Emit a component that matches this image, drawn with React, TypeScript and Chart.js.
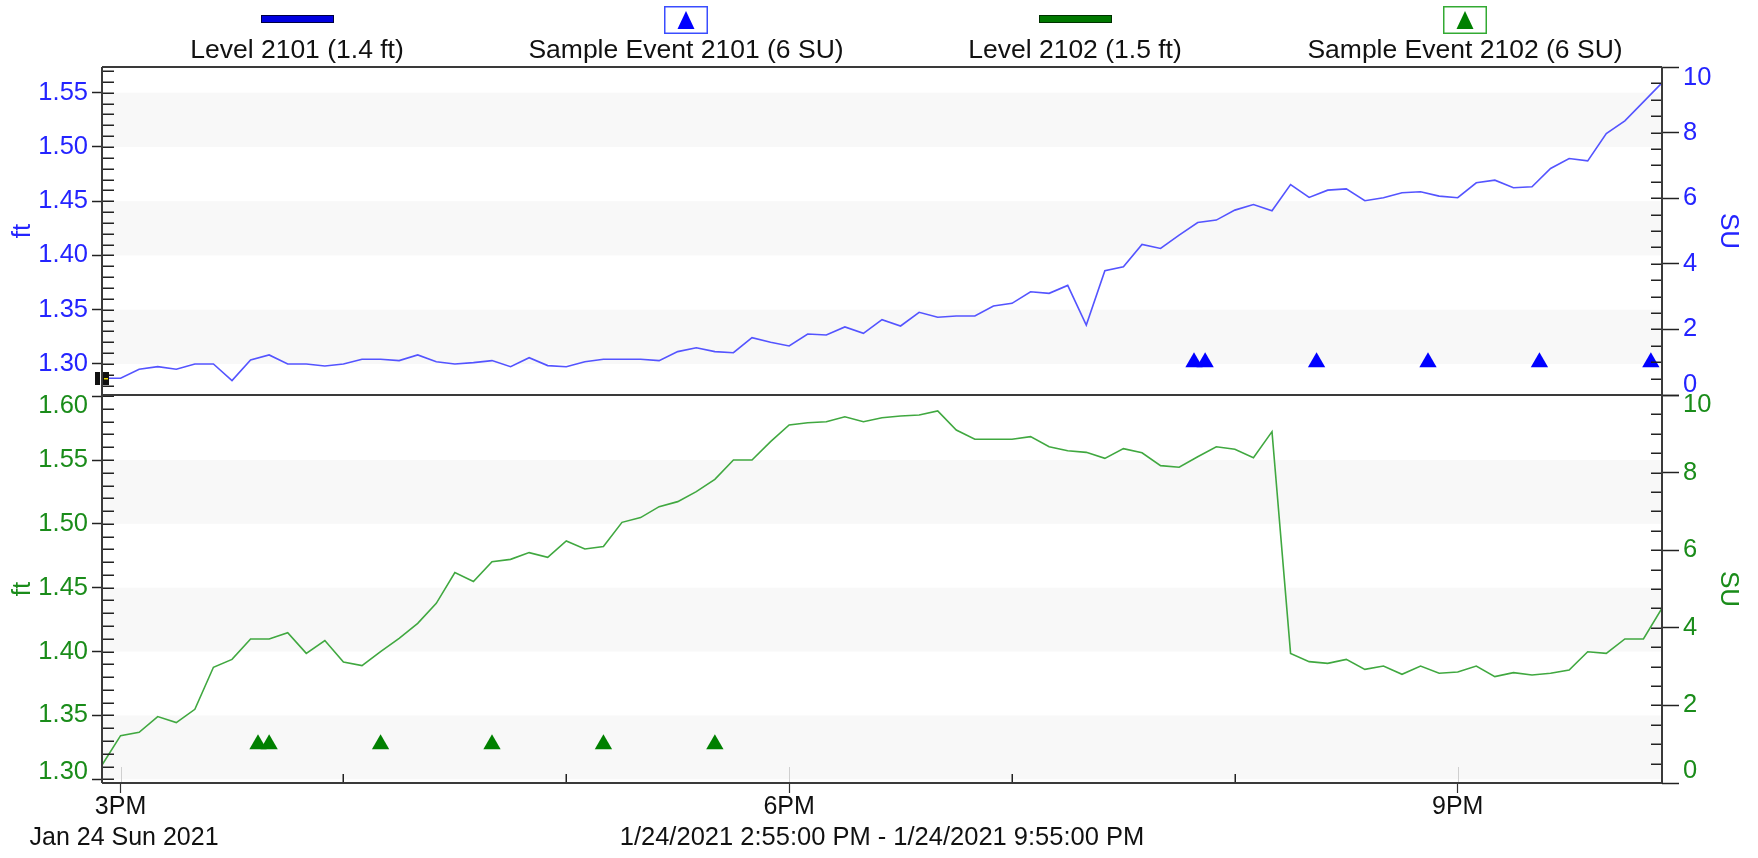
import React, { useEffect, useRef } from "react";
import { Chart, registerables } from "chart.js";

Chart.register(...registerables);

// ---------------- DATA ----------------
const timeLabels = [
  "14:55", "15:00", "15:05", "15:10", "15:15", "15:20", "15:25", "15:30", "15:35", "15:40", "15:45", "15:50", "15:55",
  "16:00", "16:05", "16:10", "16:15", "16:20", "16:25", "16:30", "16:35", "16:40", "16:45", "16:50", "16:55",
  "17:00", "17:05", "17:10", "17:15", "17:20", "17:25", "17:30", "17:35", "17:40", "17:45", "17:50", "17:55",
  "18:00", "18:05", "18:10", "18:15", "18:20", "18:25", "18:30", "18:35", "18:40", "18:45", "18:50", "18:55",
  "19:00", "19:05", "19:10", "19:15", "19:20", "19:25", "19:30", "19:35", "19:40", "19:45", "19:50", "19:55",
  "20:00", "20:05", "20:10", "20:15", "20:20", "20:25", "20:30", "20:35", "20:40", "20:45", "20:50", "20:55",
  "21:00", "21:05", "21:10", "21:15", "21:20", "21:25", "21:30", "21:35", "21:40", "21:45", "21:50", "21:55",
];

const level2101 = [
  1.2868, 1.2868, 1.2951, 1.2975, 1.2951, 1.3, 1.3, 1.2847, 1.3037, 1.3083, 1.3, 1.3, 1.2982,
  1.3, 1.3043, 1.3043, 1.3031, 1.3083, 1.3021, 1.3, 1.3012, 1.3031, 1.2975, 1.3058, 1.2985,
  1.2975, 1.3021, 1.3043, 1.3043, 1.3043, 1.3031, 1.3114, 1.315, 1.3114, 1.3104, 1.3242, 1.32,
  1.3166, 1.3276, 1.3267, 1.3341, 1.3282, 1.3408, 1.335, 1.3476, 1.343, 1.3442, 1.3442, 1.3534,
  1.3559, 1.3666, 1.3651, 1.3724, 1.3359, 1.3859, 1.3896, 1.4102, 1.4065, 1.4188, 1.4304, 1.4326,
  1.4418, 1.447, 1.4412, 1.4654, 1.4535, 1.4602, 1.4614, 1.4504, 1.4532, 1.4578, 1.4587, 1.4547,
  1.4532, 1.467, 1.4694, 1.4624, 1.4633, 1.4802, 1.4894, 1.4872, 1.5124, 1.5241, 1.5416, 1.5591,
];

const level2102 = [
  1.3112, 1.3342, 1.3368, 1.3491, 1.3444, 1.3548, 1.3877, 1.3939, 1.4099, 1.4099, 1.4148, 1.3986, 1.4086,
  1.3919, 1.389, 1.4, 1.4104, 1.4221, 1.4378, 1.4618, 1.4548, 1.4704, 1.4722, 1.4775, 1.4738,
  1.4866, 1.4803, 1.4822, 1.5012, 1.5049, 1.5135, 1.5174, 1.5252, 1.5349, 1.55, 1.55, 1.5644,
  1.5774, 1.5792, 1.58, 1.5839, 1.58, 1.5831, 1.5844, 1.5852, 1.5884, 1.5735, 1.5662, 1.5662,
  1.5662, 1.5683, 1.5604, 1.5573, 1.556, 1.5513, 1.5589, 1.5557, 1.5456, 1.5443, 1.5526, 1.5604,
  1.5584, 1.5518, 1.5722, 1.3986, 1.3921, 1.3908, 1.3939, 1.3861, 1.3887, 1.3822, 1.3887, 1.383,
  1.384, 1.3887, 1.3804, 1.3835, 1.3817, 1.383, 1.3856, 1.3999, 1.3986, 1.4099, 1.4099, 1.4339,
];

const sampleTimes2101 = ["19:49", "19:52", "20:22", "20:52", "21:22", "21:52"];
const sampleSU2101 = [1, 1, 1, 1, 1, 1];
const sampleTimes2102 = ["15:37", "15:40", "16:10", "16:40", "17:10", "17:40"];
const sampleSU2102 = [1, 1, 1, 1, 1, 1];

const ftTicks2101 = [1.3, 1.35, 1.4, 1.45, 1.5, 1.55];
const ftTicks2102 = [1.3, 1.35, 1.4, 1.45, 1.5, 1.55, 1.6];
const suTicks = [0, 2, 4, 6, 8, 10];
const hourTicks = ["15:00", "16:00", "17:00", "18:00", "19:00", "20:00", "21:00"];
const hourLabels = ["3PM", "", "", "6PM", "", "", "9PM"];
const dateLabel = "Jan 24 Sun 2021";
const rangeLabel = "1/24/2021 2:55:00 PM - 1/24/2021 9:55:00 PM";
const rangeStart = "14:55";
const rangeEnd = "21:55";
const legendLabels = [
  "Level 2101 (1.4 ft)",
  "Sample Event 2101 (6 SU)",
  "Level 2102 (1.5 ft)",
  "Sample Event 2102 (6 SU)",
];
const bandRanges = [
  [1.3, 1.35],
  [1.4, 1.45],
  [1.5, 1.55],
];

// ---------------- STYLE / LAYOUT ----------------
const FONT = '"Liberation Sans", Arial, Helvetica, sans-serif';
const BLUE_TXT = "#2424ff";
const GREEN_TXT = "#1a8c1a";
const BLUE_LINE = "rgb(84,84,255)";
const GREEN_LINE = "rgb(64,168,64)";
const BLUE_MARK = "#0000ff";
const GREEN_MARK = "#008000";
const AXIS = "#3a3a3a";
const TICK = "#222222";
const BAND = "#f8f8f8";
const TICK_FONT = 25.5;
const legendCenters = [297, 686, 1075, 1465];
const legendStyles = [
  { kind: "line", color: "#0000e0", border: "#000040" },
  { kind: "tri", color: "#0000ff", border: "#3a4dff" },
  { kind: "line", color: "#007800", border: "#003000" },
  { kind: "tri", color: "#008000", border: "#33aa33" },
];

const toMin = (s: string) => {
  const p = s.split(":").map(Number);
  return p[0] * 60 + p[1] + (p[2] || 0) / 60;
};

const pts = (times: string[], vals: number[]) => times.map((t, i) => ({ x: toMin(t), y: vals[i] }));

function edgeFont(color: string, offsets: Record<string, number>) {
  return {
    color,
    autoSkip: false,
    font: (ctx: any) => {
      const v = ctx && ctx.tick ? ctx.tick.value : undefined;
      const key = v === undefined ? "" : String(Math.round(v * 100) / 100);
      const off = offsets[key];
      return { family: FONT, size: TICK_FONT, lineHeight: off ? `${Math.abs(off) * 2}px` : 1.2 };
    },
  };
}

function edgeLabel(text: string, off: number | undefined) {
  if (!off) return text;
  return off > 0 ? ["", text] : [text, ""];
}

const panelPlugin = {
  id: "panelPlugin",
  beforeDatasetsDraw(chart: any) {
    const { ctx, chartArea } = chart;
    ctx.save();
    ctx.fillStyle = BAND;
    for (const id of ["yL1", "yL2"]) {
      const s = chart.scales[id];
      for (const [lo, hi] of bandRanges) {
        const y1 = Math.max(s.top, s.getPixelForValue(hi));
        const y2 = Math.min(s.bottom, s.getPixelForValue(lo));
        if (y2 > y1) ctx.fillRect(chartArea.left, y1, chartArea.right - chartArea.left, y2 - y1);
      }
    }
    ctx.restore();
  },
  afterDraw(chart: any) {
    const { ctx, chartArea } = chart;
    const { left, right, top, bottom } = chartArea;
    const x = chart.scales.x;
    ctx.save();
    ctx.strokeStyle = TICK;
    ctx.lineWidth = 1.5;
    ctx.beginPath();
    for (const id of ["yL1", "yL2"]) {
      const s = chart.scales[id];
      for (let k = Math.ceil(s.min * 100 - 1e-6); k <= Math.floor(s.max * 100 + 1e-6); k++) {
        const y = Math.round(s.getPixelForValue(k / 100)) + 0.25;
        ctx.moveTo(left, y);
        ctx.lineTo(left + 12, y);
      }
    }
    for (const id of ["yR1", "yR2"]) {
      const s = chart.scales[id];
      for (let k = 0; k <= 20; k++) {
        const y = Math.round(s.getPixelForValue(k / 2)) + 0.25;
        ctx.moveTo(right - 11, y);
        ctx.lineTo(right, y);
      }
    }
    hourTicks.forEach((t, i) => {
      const px = Math.round(x.getPixelForValue(toMin(t))) + 0.25;
      if (!hourLabels[i]) {
        ctx.moveTo(px, bottom - 9);
        ctx.lineTo(px, bottom);
      }
    });
    ctx.stroke();
    ctx.strokeStyle = "#cfcfcf";
    ctx.lineWidth = 1;
    ctx.beginPath();
    hourTicks.forEach((t, i) => {
      const px = Math.round(x.getPixelForValue(toMin(t))) + 0.5;
      if (hourLabels[i]) {
        ctx.moveTo(px, bottom - 16);
        ctx.lineTo(px, bottom);
      }
    });
    ctx.stroke();
    const sep = chart.scales.yL1.bottom;
    ctx.strokeStyle = AXIS;
    ctx.lineWidth = 2;
    ctx.beginPath();
    ctx.moveTo(left, top);
    ctx.lineTo(right, top);
    ctx.moveTo(left, sep);
    ctx.lineTo(right, sep);
    ctx.moveTo(left, bottom);
    ctx.lineTo(right, bottom);
    ctx.moveTo(left, top);
    ctx.lineTo(left, bottom);
    ctx.moveTo(right, top);
    ctx.lineTo(right, bottom);
    ctx.stroke();
    ctx.fillStyle = "#111";
    ctx.fillRect(left - 7, sep - 23, 5, 13);
    ctx.fillRect(left + 1, sep - 23, 6, 13);
    ctx.fillStyle = "#e8d800";
    ctx.fillRect(left + 2, sep - 17, 4, 1.5);
    ctx.restore();
  },
};

export default function App() {
  const ref = useRef<HTMLCanvasElement>(null);

  useEffect(() => {
    if (!ref.current) return;
    const xMin = toMin(rangeStart);
    const xMax = toMin(rangeEnd);
    const off2101L: Record<string, number> = {};
    const off2102L: Record<string, number> = { "1.6": 9.5, "1.3": -7 };
    const off2101R: Record<string, number> = { "10": 11, "0": -10 };
    const off2102R: Record<string, number> = { "10": 10, "0": -12 };

    const leftFit = (s: any) => {
      s.width = 102;
    };
    const rightFit = (s: any) => {
      s.width = 96;
    };

    const chart = new Chart(ref.current, {
      type: "line",
      data: {
        datasets: [
          {
            label: legendLabels[0],
            data: pts(timeLabels, level2101),
            xAxisID: "x",
            yAxisID: "yL1",
            borderColor: BLUE_LINE,
            borderWidth: 1.6,
            pointRadius: 0,
            tension: 0,
          },
          {
            label: legendLabels[1],
            data: pts(sampleTimes2101, sampleSU2101),
            xAxisID: "x",
            yAxisID: "yR1",
            showLine: false,
            pointStyle: "triangle",
            pointRadius: 10,
            pointBorderWidth: 0,
            pointBackgroundColor: BLUE_MARK,
            borderColor: BLUE_MARK,
            backgroundColor: BLUE_MARK,
          },
          {
            label: legendLabels[2],
            data: pts(timeLabels, level2102),
            xAxisID: "x",
            yAxisID: "yL2",
            borderColor: GREEN_LINE,
            borderWidth: 1.6,
            pointRadius: 0,
            tension: 0,
          },
          {
            label: legendLabels[3],
            data: pts(sampleTimes2102, sampleSU2102),
            xAxisID: "x",
            yAxisID: "yR2",
            showLine: false,
            pointStyle: "triangle",
            pointRadius: 10,
            pointBorderWidth: 0,
            pointBackgroundColor: GREEN_MARK,
            borderColor: GREEN_MARK,
            backgroundColor: GREEN_MARK,
          },
        ],
      } as any,
      options: {
        responsive: false,
        animation: false,
        devicePixelRatio: 1,
        layout: { padding: { top: 67, left: 0, right: 0, bottom: 0 } },
        plugins: { legend: { display: false }, tooltip: { enabled: false } },
        scales: {
          x: {
            type: "linear",
            position: "bottom",
            min: xMin,
            max: xMax,
            afterBuildTicks: (s: any) => {
              s.ticks = hourTicks.map((t) => ({ value: toMin(t) }));
            },
            afterFit: (s: any) => {
              s.height = 75;
            },
            border: { display: false },
            grid: {
              drawOnChartArea: false,
              drawTicks: true,
              tickLength: 10,
              tickWidth: 1.2,
              tickColor: (c: any) => {
                const i = hourTicks.findIndex((t) => Math.abs(toMin(t) - (c.tick ? c.tick.value : -1)) < 0.01);
                return i >= 0 && hourLabels[i] ? "#333" : "rgba(0,0,0,0)";
              },
            },
            ticks: {
              autoSkip: false,
              maxRotation: 0,
              minRotation: 0,
              padding: -1,
              color: "#111",
              font: { family: FONT, size: 25, lineHeight: "31px" },
              callback: (_v: any, i: number) => (i === 0 ? [hourLabels[0], " " + dateLabel] : hourLabels[i]),
            },
            title: {
              display: true,
              text: rangeLabel,
              color: "#111",
              font: { family: FONT, size: 25.5 },
              padding: { top: 0, bottom: 5 },
            },
          },
          yL1: {
            type: "linear",
            position: "left",
            stack: "left",
            stackWeight: 328,
            weight: 2,
            min: 1.2714,
            max: 1.5737,
            afterBuildTicks: (s: any) => {
              s.ticks = ftTicks2101.map((v) => ({ value: v }));
            },
            afterFit: leftFit,
            border: { display: false },
            grid: { drawOnChartArea: false, tickLength: 10, tickColor: TICK, tickWidth: 1.5 },
            ticks: {
              ...edgeFont(BLUE_TXT, off2101L),
              padding: 4,
              callback: (v: any) => edgeLabel(Number(v).toFixed(2), off2101L[String(Math.round(v * 100) / 100)]),
            },
            title: { display: true, text: "ft", color: BLUE_TXT, font: { family: FONT, size: 26 }, padding: { top: 7, bottom: 0 } },
          },
          yL2: {
            type: "linear",
            position: "left",
            stack: "left",
            stackWeight: 388,
            weight: 1,
            min: 1.2971,
            max: 1.6009,
            afterBuildTicks: (s: any) => {
              s.ticks = ftTicks2102.map((v) => ({ value: v }));
            },
            afterFit: leftFit,
            border: { display: false },
            grid: { drawOnChartArea: false, tickLength: 10, tickColor: TICK, tickWidth: 1.5 },
            ticks: {
              ...edgeFont(GREEN_TXT, off2102L),
              padding: 4,
              callback: (v: any) => edgeLabel(Number(v).toFixed(2), off2102L[String(Math.round(v * 100) / 100)]),
            },
            title: { display: true, text: "ft", color: GREEN_TXT, font: { family: FONT, size: 26 }, padding: { top: 7, bottom: 0 } },
          },
          yR1: {
            type: "linear",
            position: "right",
            stack: "right",
            stackWeight: 328,
            weight: 1,
            min: 0,
            max: 10,
            afterBuildTicks: (s: any) => {
              s.ticks = suTicks.map((v) => ({ value: v }));
            },
            afterFit: rightFit,
            border: { display: false },
            grid: { drawOnChartArea: false, tickLength: 17, tickColor: TICK, tickWidth: 1.5 },
            ticks: {
              ...edgeFont(BLUE_TXT, off2101R),
              padding: 4,
              callback: (v: any) => edgeLabel(String(v), off2101R[String(v)]),
            },
            title: { display: true, text: "SU", color: BLUE_TXT, font: { family: FONT, size: 26 }, padding: { top: 14, bottom: 0 } },
          },
          yR2: {
            type: "linear",
            position: "right",
            stack: "right",
            stackWeight: 388,
            weight: 2,
            min: 0,
            max: 10,
            afterBuildTicks: (s: any) => {
              s.ticks = suTicks.map((v) => ({ value: v }));
            },
            afterFit: rightFit,
            border: { display: false },
            grid: { drawOnChartArea: false, tickLength: 17, tickColor: TICK, tickWidth: 1.5 },
            ticks: {
              ...edgeFont(GREEN_TXT, off2102R),
              padding: 4,
              callback: (v: any) => edgeLabel(String(v), off2102R[String(v)]),
            },
            title: { display: true, text: "SU", color: GREEN_TXT, font: { family: FONT, size: 26 }, padding: { top: 14, bottom: 0 } },
          },
        },
      } as any,
      plugins: [panelPlugin],
    });
    return () => chart.destroy();
  }, []);

  return (
    <div style={{ position: "absolute", left: 0, top: 0, width: 1758, height: 858, background: "#fff", overflow: "hidden" }}>
      <canvas ref={ref} width={1758} height={858} style={{ position: "absolute", left: 0, top: 0, width: 1758, height: 858 }} />
      {legendLabels.map((label, i) => {
        const st = legendStyles[i];
        return (
          <div key={i} style={{ position: "absolute", left: legendCenters[i] - 200, top: 0, width: 400, height: 66 }}>
            {st.kind === "line" ? (
              <div
                style={{
                  position: "absolute",
                  left: 200 - 36,
                  top: 15,
                  width: 73,
                  height: 8,
                  boxSizing: "border-box",
                  background: st.color,
                  border: `1px solid ${st.border}`,
                }}
              />
            ) : (
              <svg width={44} height={28} style={{ position: "absolute", left: 200 - 22, top: 6 }}>
                <rect x={0.75} y={0.75} width={42.5} height={26.5} fill="#fff" stroke={st.border} strokeWidth={1.5} />
                <polygon points="22,5 13.5,23 30.5,23" fill={st.color} />
              </svg>
            )}
            <div
              style={{
                position: "absolute",
                left: 0,
                top: 34,
                width: 400,
                textAlign: "center",
                fontFamily: FONT,
                fontSize: 26.5,
                lineHeight: "30px",
                color: "#111",
                whiteSpace: "nowrap",
              }}
            >
              {label}
            </div>
          </div>
        );
      })}
    </div>
  );
}
